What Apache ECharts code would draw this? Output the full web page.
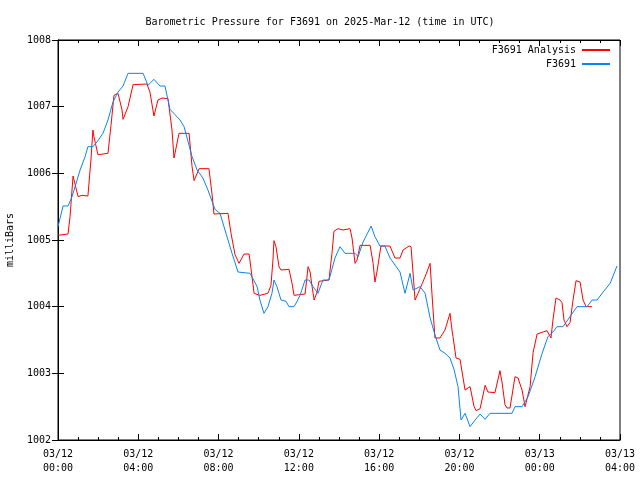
<!DOCTYPE html>
<html>
<head>
<meta charset="utf-8">
<script src="https://cdn.jsdelivr.net/npm/echarts@6/dist/echarts.min.js"></script>
<style>html,body{margin:0;padding:0;background:#fff}#c{width:640px;height:480px}</style>
</head>
<body>
<div id="c"></div>
<script>
// Hours since 2025-03-12 00:00 UTC
const analysisHours = [0,0.5,0.6,0.75,1.0,1.2,1.49,1.64,1.74,1.79,1.99,2.49,2.64,2.79,2.99,3.19,3.24,3.49,3.74,4.43,4.58,4.78,4.98,5.18,5.48,5.68,5.78,6.03,6.53,6.68,6.78,7.03,7.52,7.67,7.77,8.47,8.62,8.82,9.02,9.27,9.52,9.67,9.77,10.06,10.46,10.61,10.71,10.76,10.86,11.01,11.11,11.51,11.66,11.76,12.31,12.46,12.56,12.66,12.76,12.91,13.0,13.5,13.65,13.75,13.95,14.2,14.55,14.65,14.8,14.9,15.05,15.55,15.7,15.79,15.89,16.09,16.54,16.79,17.04,17.19,17.49,17.59,17.69,17.79,17.94,18.29,18.54,18.63,18.78,19.03,19.28,19.53,19.63,19.68,19.83,20.03,20.28,20.53,20.73,20.83,21.03,21.28,21.42,21.77,22.02,22.12,22.27,22.37,22.52,22.77,22.92,23.12,23.27,23.52,23.67,23.87,24.17,24.36,24.56,24.66,24.81,25.01,25.11,25.21,25.36,25.51,25.66,25.81,26.01,26.16,26.31,26.61];
const analysisValues = [1005.07,1005.09,1005.35,1005.96,1005.65,1005.67,1005.66,1006.2,1006.65,1006.55,1006.28,1006.3,1006.72,1007.17,1007.2,1006.95,1006.81,1007.0,1007.33,1007.34,1007.22,1006.86,1007.1,1007.13,1007.12,1006.65,1006.23,1006.6,1006.6,1006.1,1005.89,1006.07,1006.07,1005.7,1005.39,1005.4,1005.1,1004.78,1004.65,1004.79,1004.79,1004.44,1004.2,1004.17,1004.2,1004.32,1004.7,1004.99,1004.9,1004.6,1004.55,1004.56,1004.35,1004.17,1004.19,1004.6,1004.52,1004.3,1004.1,1004.22,1004.38,1004.4,1004.8,1005.13,1005.17,1005.15,1005.17,1005.03,1004.65,1004.7,1004.92,1004.92,1004.65,1004.37,1004.52,1004.91,1004.91,1004.73,1004.73,1004.85,1004.91,1004.9,1004.5,1004.1,1004.2,1004.45,1004.65,1004.2,1003.53,1003.53,1003.65,1003.9,1003.65,1003.55,1003.23,1003.21,1002.75,1002.8,1002.5,1002.44,1002.47,1002.82,1002.72,1002.71,1003.04,1002.87,1002.53,1002.48,1002.48,1002.95,1002.93,1002.75,1002.5,1002.8,1003.31,1003.59,1003.62,1003.64,1003.53,1003.8,1004.13,1004.1,1004.06,1003.8,1003.7,1003.76,1004.1,1004.39,1004.37,1004.1,1004.0,1004.0];

const stationHours = [0,0.25,0.5,0.7,1.1,1.35,1.49,1.74,1.94,2.24,2.49,2.74,2.99,3.24,3.49,4.24,4.48,4.78,5.08,5.33,5.58,5.83,6.08,6.28,6.68,6.93,7.22,7.47,7.82,8.07,8.32,8.67,8.97,9.57,9.92,10.06,10.26,10.46,10.66,10.76,10.91,11.11,11.36,11.51,11.76,11.91,12.06,12.31,12.51,12.71,12.95,13.2,13.5,13.8,14.05,14.3,14.8,14.95,15.2,15.6,15.79,16.04,16.29,16.54,17.04,17.29,17.54,17.69,18.04,18.29,18.54,18.78,19.03,19.28,19.53,19.73,19.93,20.08,20.28,20.53,20.78,21.03,21.28,21.52,22.62,22.77,23.12,23.42,23.77,24.12,24.41,24.66,24.86,25.16,25.51,25.86,26.36,26.61,26.86,27.16,27.51,27.85];
const stationValues = [1005.2,1005.51,1005.51,1005.65,1006.05,1006.25,1006.4,1006.4,1006.47,1006.6,1006.8,1007.07,1007.22,1007.31,1007.5,1007.5,1007.32,1007.41,1007.31,1007.31,1006.96,1006.88,1006.8,1006.7,1006.25,1006.05,1005.93,1005.75,1005.46,1005.4,1005.15,1004.8,1004.52,1004.5,1004.3,1004.1,1003.9,1004.0,1004.2,1004.4,1004.3,1004.1,1004.08,1004.0,1004.0,1004.08,1004.17,1004.4,1004.4,1004.3,1004.2,1004.4,1004.4,1004.73,1004.9,1004.8,1004.8,1004.75,1004.97,1005.21,1005.05,1004.91,1004.91,1004.73,1004.52,1004.2,1004.5,1004.25,1004.3,1004.2,1003.83,1003.58,1003.35,1003.3,1003.23,1003.06,1002.8,1002.3,1002.4,1002.2,1002.3,1002.39,1002.31,1002.4,1002.4,1002.5,1002.5,1002.65,1002.95,1003.3,1003.55,1003.62,1003.7,1003.7,1003.85,1004.0,1004.0,1004.1,1004.1,1004.22,1004.35,1004.61];

const tickDates = ['03/12','03/12','03/12','03/12','03/12','03/12','03/13','03/13'];
const tickTimes = ['00:00','04:00','08:00','12:00','16:00','20:00','00:00','04:00'];

const FONT = 'DejaVu Sans Mono';
const chart = echarts.init(document.getElementById('c'), null, {renderer: 'canvas'});
const zip = (a, b) => a.map((v, i) => [v, b[i]]);

const tickCommon = {show: true, inside: true, length: 6, lineStyle: {color: '#000', width: 1}};
const minorCommon = {show: true, splitNumber: 4, length: 3, lineStyle: {color: '#000', width: 1}};

chart.setOption({
  animation: false,
  backgroundColor: '#fff',
  title: {
    text: 'Barometric Pressure for F3691 on 2025-Mar-12 (time in UTC)',
    left: 'center', top: 12,
    textStyle: {fontFamily: FONT, fontSize: 10, fontWeight: 'normal', color: '#000'}
  },
  legend: {
    orient: 'vertical', right: 25, top: 40, align: 'right',
    itemWidth: 28, itemHeight: 2, itemGap: 4, icon: 'rect',
    textStyle: {fontFamily: FONT, fontSize: 10, color: '#000', padding: [0, 1, 0, 0]},
    data: ['F3691 Analysis', 'F3691']
  },
  grid: {left: 58, right: 20, top: 40, bottom: 40, show: true, borderColor: '#000', borderWidth: 1,
         containLabel: false, outerBoundsMode: 'none'},
  xAxis: [{
    type: 'value', min: 0, max: 28, interval: 4,
    axisLine: {show: true, lineStyle: {color: '#000'}},
    axisTick: tickCommon, minorTick: minorCommon,
    splitLine: {show: false},
    axisLabel: {
      fontFamily: FONT, fontSize: 10, color: '#000', margin: 7, lineHeight: 14,
      formatter: v => { const i = Math.round(v / 4); return tickDates[i] + '\n' + tickTimes[i]; }
    }
  }, {
    type: 'value', min: 0, max: 28, interval: 4, position: 'top',
    axisLine: {show: true, lineStyle: {color: '#000'}},
    axisTick: tickCommon, minorTick: minorCommon,
    splitLine: {show: false}, axisLabel: {show: false}
  }],
  yAxis: [{
    type: 'value', min: 1002, max: 1008, interval: 1,
    name: 'milliBars', nameLocation: 'middle', nameGap: 43, nameRotate: 90,
    nameTextStyle: {fontFamily: FONT, fontSize: 10, color: '#000'},
    axisLine: {show: true, lineStyle: {color: '#000'}},
    axisTick: tickCommon, splitLine: {show: false},
    axisLabel: {fontFamily: FONT, fontSize: 10, color: '#000', margin: 7, formatter: v => String(v)}
  }, {
    type: 'value', min: 1002, max: 1008, interval: 1, position: 'right',
    axisLine: {show: true, lineStyle: {color: '#000'}},
    axisTick: tickCommon, splitLine: {show: false}, axisLabel: {show: false}
  }],
  series: [{
    name: 'F3691 Analysis', type: 'line', xAxisIndex: 0, yAxisIndex: 0,
    data: zip(analysisHours, analysisValues),
    showSymbol: false, lineStyle: {color: '#ff0000', width: 1}, itemStyle: {color: '#ff0000'}
  }, {
    name: 'F3691', type: 'line', xAxisIndex: 0, yAxisIndex: 0,
    data: zip(stationHours, stationValues),
    showSymbol: false, lineStyle: {color: '#0a84f0', width: 1}, itemStyle: {color: '#0a84f0'}
  }]
});
</script>
</body>
</html>
